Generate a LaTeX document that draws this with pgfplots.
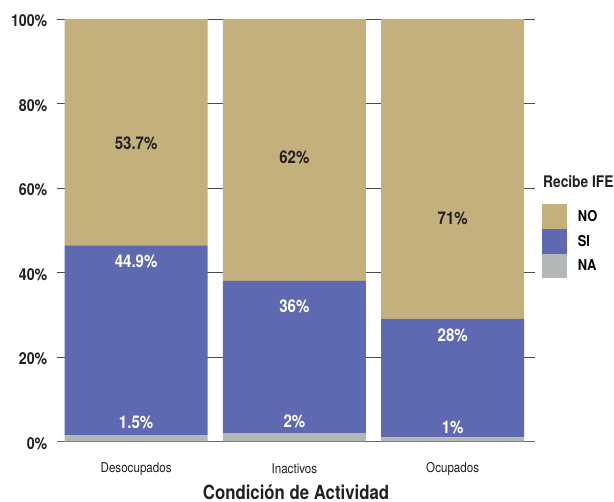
\documentclass[border=0pt]{standalone}
\usepackage{pgfplots}
\pgfplotsset{compat=1.18}
\usepackage{fontspec}
\setmainfont{TeX Gyre Heros}[FakeStretch=0.86]
\definecolor{cNO}{HTML}{C4B07D}
\definecolor{cSI}{HTML}{5F69B1}
\definecolor{cNA}{HTML}{B3B8B6}
\definecolor{txt}{HTML}{231F20}
\definecolor{gridc}{HTML}{4A4A4A}
\begin{document}
\begin{tikzpicture}
\begin{axis}[
  at={(0,0)}, anchor=south west,
  scale only axis,
  width=478pt, height=422.5pt,
  ybar stacked,
  bar width=0.903,
  xmin=-0.5, xmax=2.52,
  ymin=0, ymax=100,
  xtick={0,1,2},
  xticklabels={Desocupados,Inactivos,Ocupados},
  ytick={0,20,40,60,80,100},
  yticklabels={0\%,20\%,40\%,60\%,80\%,100\%},
  major tick length=0pt,
  axis line style={draw=none},
  ymajorgrids,
  grid style={gridc, line width=0.9pt},
  yticklabel style={font=\fontsize{16.5}{18}\selectfont\bfseries, text=txt, inner sep=0pt, anchor=east, xshift=-9.5pt, yshift=-2pt},
  xticklabel style={font=\fontsize{13.5}{15}\selectfont, text=txt, inner sep=0pt, anchor=center, yshift=-27.5pt},
  xlabel={Condición de Actividad},
  xlabel style={font=\fontsize{19.5}{22}\selectfont\bfseries, text=txt, inner sep=0pt, at={(axis description cs:0.5,0)}, anchor=center, yshift=-50.5pt},
  legend style={draw=none, fill=none, inner sep=0pt,
    at={(rel axis cs:1.0146,0.562)}, anchor=north west,
    row sep=0pt, column sep=9pt, font=\fontsize{15}{16}\selectfont\bfseries},
  legend cell align=left,
  legend image code/.code={\fill[#1] (0pt,-12.35pt) rectangle (24.7pt,12.35pt);},
]
\addlegendimage{fill=cNO, draw=none}
\addlegendentry{NO}
\addlegendimage{fill=cSI, draw=none}
\addlegendentry{SI}
\addlegendimage{fill=cNA, draw=none}
\addlegendentry{NA}
\addplot[fill=cNA, draw=none, forget plot] coordinates {(0,1.5) (1,2) (2,1)};
\addplot[fill=cSI, draw=none, forget plot] coordinates {(0,44.9) (1,36) (2,28)};
\addplot[fill=cNO, draw=none, forget plot] coordinates {(0,53.6) (1,62) (2,71)};
\draw[gray!80!black, line width=1.5pt] (rel axis cs:0,0) -- (rel axis cs:1,0);
\draw[gridc, line width=0.9pt] (rel axis cs:0,1) -- (rel axis cs:1,1);
\end{axis}
\begin{axis}[
  at={(0,0)}, anchor=south west,
  scale only axis,
  width=478pt, height=422.5pt,
  xmin=-0.5, xmax=2.52,
  ymin=0, ymax=100,
  hide axis,
  clip=false,
  title={Recibe IFE},
  title style={at={(axis description cs:1.0167,0.602)}, anchor=west, inner sep=0pt, font=\fontsize{16}{18}\selectfont\bfseries, text=txt},
  nodes near coords,
  point meta=explicit symbolic,
  every node near coord/.append style={anchor=center, inner sep=0pt, font=\fontsize{17.5}{19}\selectfont\bfseries},
]
\addplot[draw=none, mark=none, nodes near coords style={text=txt}] coordinates {(0,70.6)[53.7\%] (1,67.3)[62\%] (2,52.7)[71\%]};
\addplot[draw=none, mark=none, nodes near coords style={text=white}] coordinates {(0,42.7)[44.9\%] (1,32.1)[36\%] (2,25.2)[28\%] (0,4.6)[1.5\%] (1,4.85)[2\%] (2,3.4)[1\%]};
\end{axis}
\path[use as bounding box] (-57pt,-60.5pt) rectangle (557pt,441.5pt);
\end{tikzpicture}
\end{document}
